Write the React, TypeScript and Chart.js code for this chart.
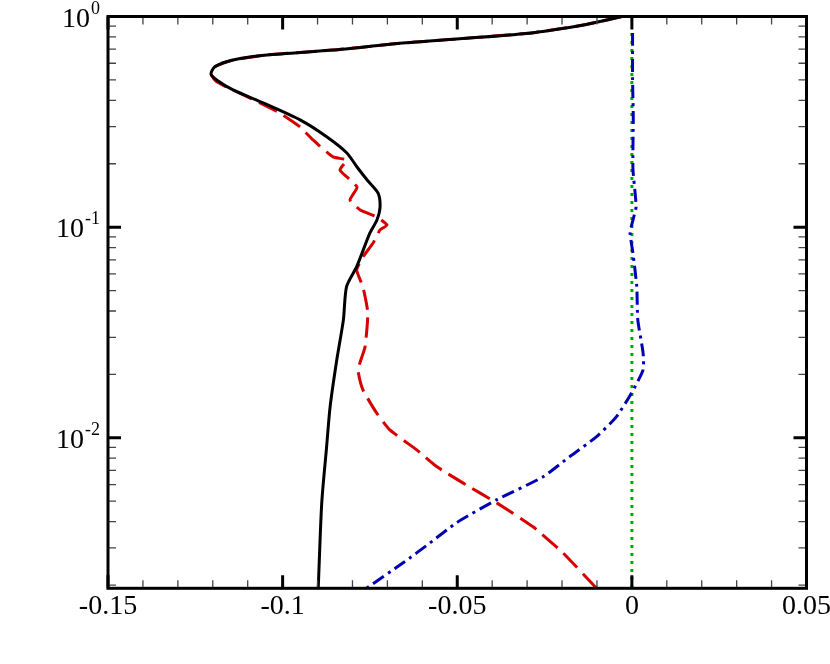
import React, { useEffect, useRef } from "react";
import { Chart, registerables } from "chart.js";

Chart.register(...registerables);

// ---- data ----
const blackX = [-0.0029, -0.0072, -0.0139, -0.0282, -0.0473, -0.0664, -0.0856, -0.1045, -0.1142, -0.1194, -0.1205, -0.1189, -0.1142, -0.1056, -0.095, -0.0873, -0.0816, -0.0787, -0.0758, -0.0727, -0.0721, -0.073, -0.075, -0.0788, -0.0817, -0.0826, -0.0845, -0.0864, -0.0874, -0.0888, -0.0898];
const blackY = [1, 0.962, 0.911, 0.838, 0.788, 0.746, 0.693, 0.657, 0.622, 0.578, 0.533, 0.4995, 0.448, 0.389, 0.323, 0.268, 0.225, 0.193, 0.1675, 0.1453, 0.1247, 0.1082, 0.0939, 0.0649, 0.0522, 0.0363, 0.0234, 0.01406, 0.00908, 0.00491, 0.00193];

const redX = [-0.0029, -0.0072, -0.0139, -0.0282, -0.0473, -0.0664, -0.0856, -0.1045, -0.1142, -0.1194, -0.1205, -0.1189, -0.1065, -0.1008, -0.095, -0.0913, -0.0856, -0.0816, -0.0836, -0.0787, -0.0807, -0.0778, -0.073, -0.0701, -0.0721, -0.0741, -0.077, -0.0788, -0.077, -0.0756, -0.0764, -0.0784, -0.077, -0.0731, -0.0693, -0.0616, -0.0559, -0.0484, -0.0387, -0.0283, -0.0197, -0.0101];
const redY = [1, 0.962, 0.911, 0.838, 0.788, 0.746, 0.693, 0.657, 0.622, 0.578, 0.533, 0.49, 0.389, 0.348, 0.299, 0.2594, 0.2155, 0.2084, 0.1868, 0.1551, 0.1346, 0.1207, 0.1118, 0.1024, 0.097, 0.0841, 0.0722, 0.0626, 0.052, 0.0392, 0.027, 0.021, 0.01688, 0.01313, 0.0109, 0.00876, 0.0073, 0.00611, 0.00491, 0.00378, 0.00284, 0.00193];

const blueX = [0.0002, 0.0002, 0.0004, 0.0003, 0.0012, 0.0003, -0.0005, 0.0003, 0.0014, 0.0017, 0.0032, 0.0032, -0.0001, -0.0044, -0.0101, -0.0178, -0.0255, -0.0388, -0.0502, -0.0578, -0.0655, -0.076];
const blueY = [0.835, 0.5, 0.33, 0.19, 0.125, 0.108, 0.0939, 0.0754, 0.0522, 0.0363, 0.0253, 0.021, 0.01633, 0.01261, 0.01013, 0.00814, 0.00652, 0.00507, 0.00395, 0.00317, 0.00255, 0.00193];

const greenX = [0, 0];
const greenY = [0.835, 0.00193];

const xTickValues = [-0.15, -0.1, -0.05, 0, 0.05];
const xTickLabels = ["-0.15", "-0.1", "-0.05", "0", "0.05"];
const yTickValues = [1, 0.1, 0.01];
const yTickExponents = ["0", "-1", "-2"];

const X_MIN = -0.15;
const X_MAX = 0.05;
const Y_MIN = 0.00193;
const Y_MAX = 1;

const FONT = '"Liberation Serif", "Times New Roman", serif';

function zip(xs: number[], ys: number[]) {
  return xs.map((x, i) => ({ x, y: ys[i] }));
}

const framePlugin = {
  id: "framePlugin",
  afterDatasetsDraw(chart: any) {
    const ctx = chart.ctx as CanvasRenderingContext2D;
    const { left, right, top, bottom } = chart.chartArea;
    const xs = chart.scales.x;
    const ys = chart.scales.y;
    ctx.save();
    // x ticks
    for (let i = -15; i <= 5; i++) {
      const v = i / 100;
      const px = xs.getPixelForValue(v);
      const major = i % 5 === 0;
      const len = major ? 13 : 8;
      ctx.strokeStyle = major ? "#000" : "#444";
      ctx.lineWidth = major ? 3 : 1.3;
      ctx.beginPath();
      ctx.moveTo(px, bottom);
      ctx.lineTo(px, bottom - len);
      ctx.moveTo(px, top);
      ctx.lineTo(px, top + len);
      ctx.stroke();
    }
    // y ticks
    for (let e = -3; e <= 0; e++) {
      for (let m = 1; m <= 9; m++) {
        const v = m * Math.pow(10, e);
        if (v < Y_MIN || v > Y_MAX) continue;
        const py = ys.getPixelForValue(v);
        const major = m === 1;
        const len = major ? 13 : 8;
        ctx.strokeStyle = major ? "#000" : "#444";
        ctx.lineWidth = major ? 3 : 1.3;
        ctx.beginPath();
        ctx.moveTo(left, py);
        ctx.lineTo(left + len, py);
        ctx.moveTo(right, py);
        ctx.lineTo(right - len, py);
        ctx.stroke();
      }
    }
    // frame
    ctx.strokeStyle = "#000";
    ctx.lineWidth = 3;
    ctx.strokeRect(left, top, right - left, bottom - top);

    // x labels
    ctx.fillStyle = "#000";
    ctx.font = `28px ${FONT}`;
    ctx.textAlign = "center";
    ctx.textBaseline = "alphabetic";
    xTickValues.forEach((v, i) => {
      const px = xs.getPixelForValue(v);
      ctx.fillText(xTickLabels[i], px, bottom + 26);
    });

    // y labels with superscript exponents
    yTickValues.forEach((v, i) => {
      const py = ys.getPixelForValue(v);
      const sup = yTickExponents[i];
      ctx.font = `18px ${FONT}`;
      const supW = ctx.measureText(sup).width;
      const rightEdge = left - 8;
      ctx.textAlign = "left";
      ctx.textBaseline = "alphabetic";
      ctx.fillText(sup, rightEdge - supW, py - 3);
      ctx.font = `28px ${FONT}`;
      ctx.textAlign = "right";
      ctx.fillText("10", rightEdge - supW - 1, py + 10);
    });
    ctx.restore();
  },
};

export default function App() {
  const canvasRef = useRef<HTMLCanvasElement | null>(null);

  useEffect(() => {
    if (!canvasRef.current) return;
    const chart = new Chart(canvasRef.current, {
      type: "line",
      data: {
        datasets: [
          {
            label: "black",
            data: zip(blackX, blackY),
            borderColor: "#000",
            borderWidth: 3,
            pointRadius: 0,
            tension: 0.25,
            fill: false,
            order: 0,
          },
          {
            label: "red",
            data: zip(redX, redY),
            borderColor: "rgb(215,0,0)",
            borderWidth: 3,
            borderDash: [20, 8],
            pointRadius: 0,
            tension: 0.15,
            fill: false,
            order: 1,
          },
          {
            label: "blue",
            data: zip(blueX, blueY),
            borderColor: "rgb(0,0,180)",
            borderWidth: 3,
            borderDash: [13, 5, 3, 5],
            pointRadius: 0,
            tension: 0.2,
            fill: false,
            order: 2,
          },
          {
            label: "green",
            data: zip(greenX, greenY),
            borderColor: "rgb(0,170,0)",
            borderWidth: 3,
            borderDash: [3, 5],
            pointRadius: 0,
            tension: 0,
            fill: false,
            order: 3,
          },
        ],
      },
      options: {
        animation: false,
        responsive: false,
        parsing: false as any,
        layout: { padding: { left: 108, right: 23.5, top: 16.5, bottom: 75.7 } },
        plugins: { legend: { display: false }, tooltip: { enabled: false } },
        scales: {
          x: { type: "linear", min: X_MIN, max: X_MAX, display: false },
          y: { type: "logarithmic", min: Y_MIN, max: Y_MAX, display: false },
        },
      },
      plugins: [framePlugin],
    });
    return () => chart.destroy();
  }, []);

  return (
    <div style={{ position: "absolute", left: 0, top: 0, width: 830, height: 664, background: "#fff" }}>
      <canvas ref={canvasRef} width={830} height={664} style={{ width: 830, height: 664 }} />
    </div>
  );
}
